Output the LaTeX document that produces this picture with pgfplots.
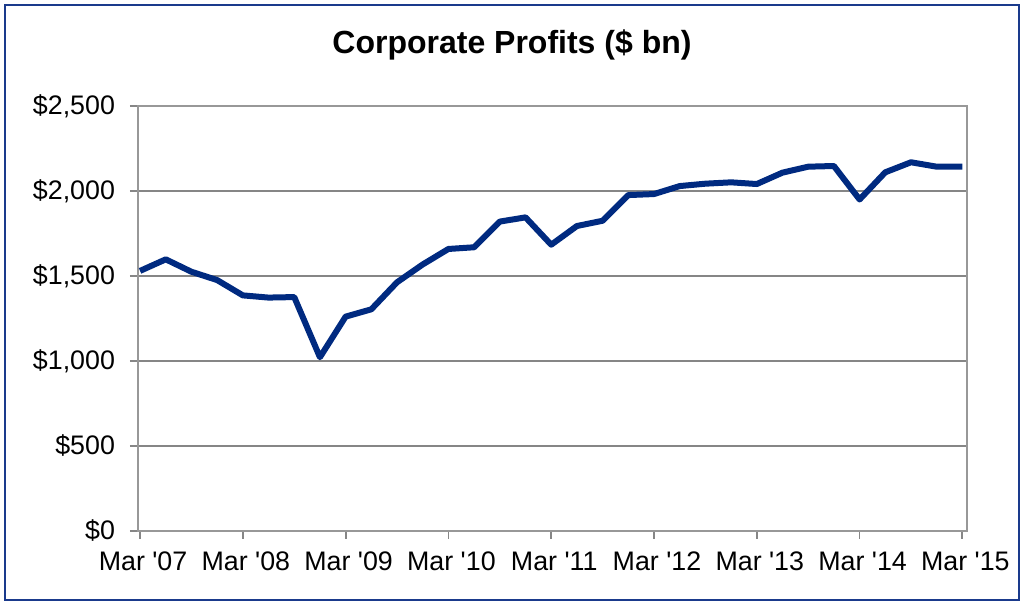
\documentclass[border=0pt]{standalone}
\usepackage{fontspec}
\setmainfont{Liberation Sans}
\usepackage{pgfplots}
\pgfplotsset{compat=1.18}

\definecolor{linenavy}{HTML}{002A80}
\definecolor{framenavy}{HTML}{1A3A8C}
\definecolor{gridgray}{HTML}{868686}

% 1 px of the reference = 0.5pt; axis origin sits at pixel (138,531)
\begin{document}
\begin{tikzpicture}[x=0.5pt,y=0.5pt]
\path[use as bounding box] (-138,531) rectangle (886,-74);
\draw[framenavy, line width=1.3pt] (-133,526) rectangle (881,-69);
\node[font=\fontsize{16}{19}\selectfont\bfseries] at (374,486) {Corporate Profits (\$ bn)};
\begin{axis}[
    at={(0,0)}, anchor=south west,
    scale only axis,
    width=414.5pt,
    height=212.5pt,
    xmin=-0.08, xmax=32.18,
    ymin=0, ymax=2500,
    xtick={0,4,...,32},
    xticklabels={Mar \textquotesingle07,Mar \textquotesingle08,Mar \textquotesingle09,Mar \textquotesingle10,Mar \textquotesingle11,Mar \textquotesingle12,Mar \textquotesingle13,Mar \textquotesingle14,Mar \textquotesingle15},
    ytick={0,500,...,2500},
    yticklabels={{\$0},{\$500},{\$1,000},{\$1,500},{\$2,000},{\$2,500}},
    tick label style={font=\fontsize{13.4}{16}\selectfont},
    yticklabel style={xshift=-4pt},
    xticklabel style={yshift=-3pt, xshift=1.5pt},
    ymajorgrids,
    grid style={gridgray, line width=0.9pt},
    axis line style={gridgray!85, line width=0.9pt},
    tick style={gridgray, line width=0.9pt},
    tick align=outside,
    major tick length=4pt,
    xtick pos=bottom, ytick pos=left,
    clip=false,
]
\addplot[linenavy, line width=3pt, line join=round, mark=none] coordinates {
(0,1530) (1,1598) (2,1525) (3,1476) (4,1386) (5,1373) (6,1376) (7,1022)
(8,1261) (9,1304) (10,1463) (11,1568) (12,1659) (13,1669) (14,1820) (15,1845)
(16,1684) (17,1794) (18,1825) (19,1976) (20,1982) (21,2029) (22,2043) (23,2051)
(24,2041) (25,2108) (26,2143) (27,2147) (28,1950) (29,2110) (30,2169) (31,2143)
(32,2143)
};
\end{axis}
\end{tikzpicture}
\end{document}
